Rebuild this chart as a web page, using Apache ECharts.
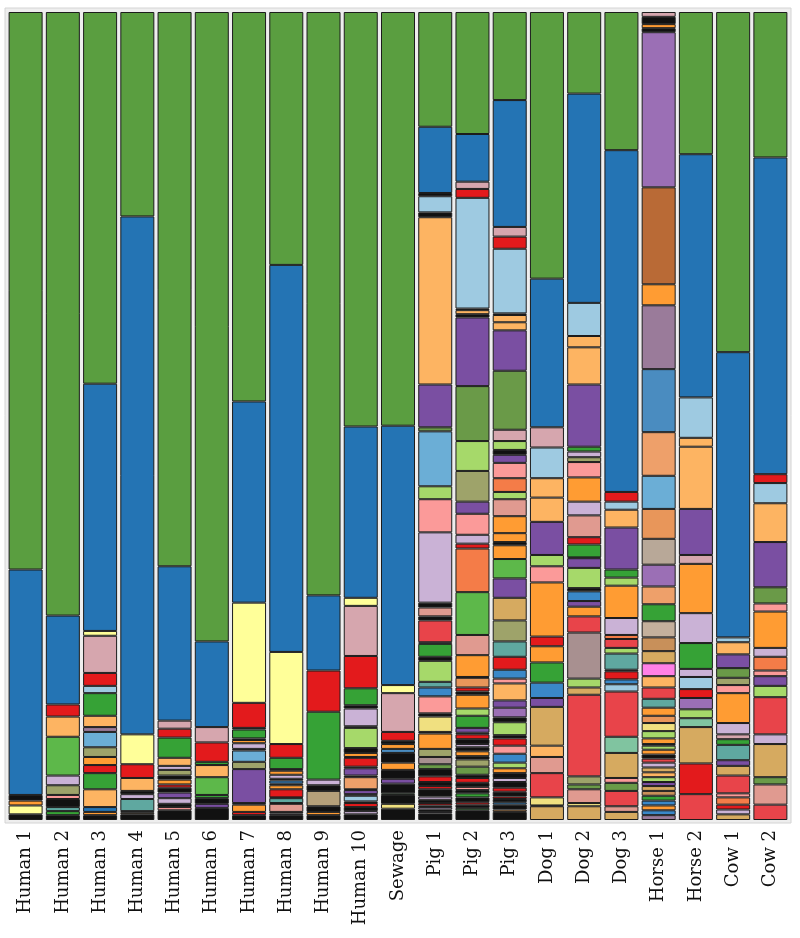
<!DOCTYPE html>
<html>
<head>
<meta charset="utf-8">
<script src="https://cdn.jsdelivr.net/npm/echarts@6/dist/echarts.min.js"></script>
<style>
  html, body { margin: 0; padding: 0; background: #fff; }
  #chart01 { width: 800px; height: 938px; }
</style>
</head>
<body>
<div id="chart01"></div>
<script>
// 样本名
var categories = ['Human 1', 'Human 2', 'Human 3', 'Human 4', 'Human 5', 'Human 6', 'Human 7', 'Human 8', 'Human 9', 'Human 10',
  'Sewage', 'Pig 1', 'Pig 2', 'Pig 3', 'Dog 1', 'Dog 2', 'Dog 3', 'Horse 1', 'Horse 2', 'Cow 1', 'Cow 2'];

// 每个样本: 由下往上的相对丰度 (%) 与类群代码
var human1 = [0.7, 1.1, 0.6, 0.7, 27.9, 69.0];
var human1Taxa = 'k y o k B G';
var human2 = [0.6, 0.5, 0.5, 1.0, 0.5, 1.2, 1.2, 4.8, 2.5, 1.5, 11.0, 74.7];
var human2Taxa = 'k g t k P O v N L r B G';
var human3 = [0.6, 0.4, 0.6, 2.2, 2.0, 1.0, 1.0, 1.2, 1.9, 0.6, 1.4, 2.8, 0.9, 1.6, 4.6, 0.6, 30.6, 46.0];
var human3Taxa = 'k o B L g r o O s q L g b r m y B G';
var human4 = [0.7, 0.2, 0.2, 1.5, 0.6, 0.4, 1.6, 1.7, 3.7, 64.1, 25.3];
var human4Taxa = 'k o k t v k L r y B G';
var human5 = [1.2, 0.4, 0.4, 0.7, 0.7, 0.6, 0.4, 0.6, 0.5, 0.7, 0.5, 1.0, 2.5, 1.1, 1.0, 19.1, 68.6];
var human5Taxa = 'k P k v p k r o k O v L g r m B G';
var human6 = [1.5, 0.5, 0.7, 0.4, 2.2, 1.5, 0.4, 2.4, 1.9, 10.6, 77.9];
var human6Taxa = 'k p k g N L g r m B G';
var human7 = [0.6, 0.4, 0.9, 0.2, 4.2, 0.9, 1.4, 0.2, 0.7, 0.4, 0.2, 1.1, 0.2, 3.1, 12.4, 24.9, 48.2];
var human7Taxa = 'k r o k p O s k v o k g k r y B G';
var human8 = [0.6, 0.2, 0.2, 1.0, 0.1, 0.6, 0.1, 1.0, 0.5, 0.2, 0.4, 0.2, 0.5, 0.5, 0.2, 1.4, 1.7, 11.4, 47.9, 31.3];
var human8Taxa = 'k v k n k t k r o k i k v o k g r y B G';
var human9 = [0.6, 0.4, 0.7, 1.9, 0.7, 0.7, 8.4, 5.1, 9.3, 72.2];
var human9Taxa = 'k o k K k v g r B G';
var human10 = [0.7, 0.4, 0.5, 0.5, 0.2, 0.7, 0.2, 0.5, 0.1, 1.5, 0.2, 0.9, 0.2, 1.1, 0.1, 0.5, 0.6, 2.5, 0.2, 2.2, 0.4, 2.1, 4.0, 6.2, 1.0, 21.2, 51.3];
var human10Taxa = 'k v k r k b k p k a k p k r k o k l k v k g r m y B G';
var sewage = [1.4, 0.6, 1.1, 0.2, 1.2, 0.6, 1.1, 0.9, 1.2, 0.5, 0.6, 0.4, 1.1, 4.8, 1.0, 32.1, 51.2];
var sewageTaxa = 'k Y k g k p k o k S o k r m y B G';
var pig1 = [0.8, 0.2, 0.3, 0.3, 0.2, 0.3, 0.4, 0.4, 0.9, 0.4, 0.5, 0.7, 0.9, 0.6, 0.9, 1.0, 1.9, 0.2, 1.9, 0.4, 2.1, 1.1, 0.7, 2.6, 0.5, 1.6,
  0.2, 2.7, 0.5, 1.1, 0.6, 8.7, 4.1, 1.6, 6.8, 0.5, 5.3, 20.7, 0.6, 2.0, 0.4, 8.2, 14.2];
var pig1Taxa = 'k p k v k r k v k r k r k f h O o k Y k P i t l k g k R k n k v P l s f p L k b k B G';
var pig2 = [1.2, 0.3, 0.4, 0.3, 0.6, 0.5, 0.4, 0.4, 0.5, 0.6, 0.4, 1.0, 0.9, 0.4, 0.6, 0.5, 0.4, 0.6, 0.6, 0.2, 0.6, 1.5, 0.9, 1.7,
  0.4, 0.5, 1.2, 0.1, 2.7, 2.5, 5.3, 5.4, 0.6, 1.1, 2.6, 1.5, 3.8, 3.7, 6.8, 8.5, 0.4, 0.5, 0.2, 13.7, 1.1, 0.9, 5.9, 15.1];
var pig2Taxa = 'k g k r k g k P k r k f O k o k v k r k p g l o k r c k o n N e r v P p O l f p k L k b r m B G';
var pig3 = [1.0, 0.3, 0.6, 0.3, 0.4, 0.3, 0.6, 0.5, 0.7, 0.5, 0.6, 0.6, 0.7, 1.1, 1.0, 0.9, 0.4, 1.6, 0.6, 1.2, 0.9, 2.1, 0.6, 1.1, 1.6, 1.9,
  2.6, 2.8, 2.4, 2.4, 1.7, 0.4, 1.1, 2.1, 2.1, 0.9, 1.7, 1.9, 1.0, 0.6, 1.1, 1.4, 7.3, 5.0, 1.0, 0.9, 0.2, 8.0, 1.5, 1.2, 15.7, 10.9];
var pig3Taxa = 'k d k i k r k r k v k o l i P r k l k u p L P i r t O T p N o k o o n l e P p k l m f p L L k b r m B G';
var dog1 = [1.7, 0.1, 1.0, 3.0, 2.0, 1.4, 4.8, 1.1, 1.9, 2.5, 2.0, 1.2, 6.7, 2.0, 1.4, 4.1, 3.0, 2.4, 3.8, 2.5, 18.4, 33.0];
var dog1Taxa = 'T k Y R n L T p i g o r o P l p L L b m B G';
var dog2 = [1.7, 0.4, 1.7, 0.6, 1.0, 10.1, 0.9, 1.1, 5.7, 2.0, 1.2, 0.7, 1.2, 0.4, 2.5, 1.2, 0.1, 1.6, 0.9, 2.7,
  1.7, 3.0, 1.9, 0.6, 0.7, 0.6, 7.7, 4.6, 1.4, 4.1, 25.9, 10.1];
var dog2Taxa = 'T Y n f O R T l h R o p i k l p k g r n v o P O v g p L L b B G';
var dog3 = [1.0, 0.7, 1.9, 1.0, 0.6, 3.1, 2.0, 5.6, 0.9, 0.6, 1.0, 0.2, 2.0, 0.7, 1.1, 0.5, 2.1, 4.0, 1.0, 1.0, 5.2, 2.2, 1.0, 1.2, 42.3, 17.1];
var dog3Taxa = 'T n R f P T z R b i r k t l R e v o l g p L b r B G';
var horse1 = [0.6, 0.6, 0.6, 0.6, 0.6, 0.6, 0.6, 0.5, 0.6, 0.6, 0.6, 0.6, 0.5, 0.5, 0.6, 0.5,
  0.2, 0.7, 0.9, 1.0, 0.9, 1.0, 1.1, 1.4, 1.4, 1.6, 1.5, 1.7, 2.0, 2.1, 2.2, 2.7, 3.2, 3.7, 4.1, 5.4,
  7.8, 7.9, 2.6, 12.0, 19.2, 0.5, 0.5, 0.9, 0.6];
var horse1Taxa = 'q i o i g d T p l L T v R k o l k o l Y c o t R L M T d j g a u x c s a S q o w u k o k m';
var horse2 = [3.2, 3.8, 4.5, 1.1, 1.1, 1.4, 1.1, 1.5, 1.0, 3.2, 3.7, 6.1, 1.1, 5.7, 7.7, 1.1, 5.0, 30.1, 17.6];
var horse2Taxa = 'R r T z l u r b v g v o m p L L b B G';
var cow1 = [0.7, 0.6, 0.6, 0.9, 0.5, 2.2, 1.2, 0.7, 1.9, 0.7, 0.6, 1.4, 3.7, 1.0, 0.9, 1.2, 1.7, 1.5, 0.6, 35.3, 42.1];
var cow1Taxa = 'T v r e P R T p t g m v o P O f p L b B G';
var cow2 = [1.9, 2.5, 0.9, 4.1, 1.2, 4.6, 1.4, 1.2, 0.7, 1.7, 1.1, 4.5, 1.0, 2.0, 5.6, 4.8, 2.5, 1.1, 39.2, 18.0];
var cow2Taxa = 'R n f T v R l p P e v o P f p L b r B G';

// 类群代码 -> 颜色
var palette = {
  G: '#5a9e40', B: '#2474b4', k: '#111111', y: '#ffff99', o: '#ff9c33', L: '#fdb462',
  r: '#e31a1c', R: '#e8444a', g: '#36a236', l: '#a6d96a', N: '#5db84a', m: '#d6a6ae',
  b: '#9ecae1', s: '#6baed6', p: '#7a4fa2', u: '#9b6fb5', v: '#cab2d6', P: '#fb9a99',
  O: '#9ea36a', f: '#6a9a48', t: '#5fa8a0', T: '#d6aa60', n: '#e09a90', e: '#f47c48',
  h: '#a89090', x: '#b8a898', K: '#b5a07a', w: '#b96a36', q: '#9a7b9a', S: '#4a8cc0',
  z: '#80c4a0', M: '#ff80e6', a: '#eea06a', c: '#e8965a', d: '#c8905a', j: '#c4b09c',
  Y: '#f0e080', i: '#3a88c8'
};

var samples = [
  [human1, human1Taxa], [human2, human2Taxa], [human3, human3Taxa], [human4, human4Taxa],
  [human5, human5Taxa], [human6, human6Taxa], [human7, human7Taxa], [human8, human8Taxa],
  [human9, human9Taxa], [human10, human10Taxa], [sewage, sewageTaxa], [pig1, pig1Taxa],
  [pig2, pig2Taxa], [pig3, pig3Taxa], [dog1, dog1Taxa], [dog2, dog2Taxa], [dog3, dog3Taxa],
  [horse1, horse1Taxa], [horse2, horse2Taxa], [cow1, cow1Taxa], [cow2, cow2Taxa]
].map(function (s) {
  return { v: s[0], c: s[1].split(' ') };
});

var layers = 0;
samples.forEach(function (s) { layers = Math.max(layers, s.v.length); });

// 第 k 层 = 每个样本由下往上第 k 段
var series = [];
for (var k = 0; k < layers; k++) {
  series.push({
    type: 'bar',
    stack: 'all',
    barWidth: 34,
    animation: false,
    itemStyle: { borderColor: '#1c1c1c', borderWidth: 1 },
    data: samples.map(function (s) {
      if (k >= s.v.length) return '-';
      return { value: s.v[k], itemStyle: { color: palette[s.c[k]] } };
    })
  });
}

var chart01 = echarts.init(document.getElementById('chart01'));
var option = {
  animation: false,
  backgroundColor: '#ffffff',
  graphic: [{
    type: 'rect',
    z: -10,
    shape: { x: 5, y: 8, width: 786, height: 815 },
    style: { fill: '#eeeeee', stroke: '#d4d4d4', lineWidth: 1 }
  }],
  grid: { left: 7, right: 11, top: 12, bottom: 118 },
  xAxis: {
    type: 'category',
    data: categories,
    axisLine: { show: false },
    axisTick: { show: false },
    axisLabel: {
      interval: 0,
      rotate: 90,
      margin: 10,
      color: '#111',
      fontFamily: 'DejaVu Serif',
      fontSize: 18
    }
  },
  yAxis: {
    type: 'value',
    min: 0,
    max: 100,
    show: false
  },
  series: series
};
chart01.setOption(option);
</script>
</body>
</html>
